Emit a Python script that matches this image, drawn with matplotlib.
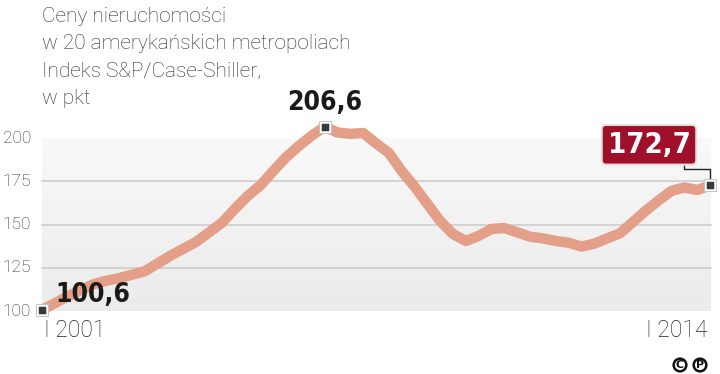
import numpy as np
import matplotlib
matplotlib.use("Agg")
from matplotlib import pyplot as plt
from matplotlib.patches import FancyBboxPatch

# kwartalne odczyty indeksu, I 2001 - I 2014
years = [2001 + q / 4 for q in range(53)]
index_vals = [100.6, 104.5, 108.5, 112.0, 115.5, 117.5, 119.0, 121.0, 123.0, 127.5,
              132.0, 136.0, 140.0, 145.5, 151.0, 159.0, 166.5, 172.7, 181.0, 189.0,
              195.5, 201.5, 206.6, 203.3, 202.5, 203.0, 197.0, 191.5, 181.0, 172.0,
              162.0, 152.0, 144.5, 140.5, 143.5, 147.5, 148.0, 145.5, 143.0, 142.0,
              140.5, 139.5, 137.3, 139.0, 142.0, 145.0, 151.5, 158.0, 164.0, 169.5,
              171.5, 170.0, 172.7]
y_ticks = [100, 125, 150, 175, 200]
x_labels = ["I 2001", "I 2014"]
title_lines = ["Ceny nieruchomości", "w 20 amerykańskich metropoliach",
               "Indeks S&P/Case-Shiller,", "w pkt"]

W, H = 720, 374
fig = plt.figure(figsize=(7.2, 3.74), dpi=100)
ax = fig.add_axes([0, 0, 1, 1])
ppy = 668 / 13          # pikseli na rok
ppu = 43.2 / 25         # pikseli na punkt indeksu
ax.set_xlim(2001 - 42 / ppy, 2001 - 42 / ppy + W / ppy)
ax.set_ylim(100 - (H - 311) / ppu, 100 + 311 / ppu)
ax.axis("off")

light = "Roboto"
cond_bold = dict(family="DejaVu Sans", fontstretch="condensed", fontweight="bold")

# szare tlo z gradientem
grad = np.linspace(0, 1, 100).reshape(-1, 1)
img = ax.imshow(grad, cmap=matplotlib.colors.LinearSegmentedColormap.from_list(
    "g", ["#ebebeb", "#f9f9f9"]), origin="lower", aspect="auto",
    extent=[2001, 2014.02, 100, 200], zorder=0)
box = FancyBboxPatch((2001, 100), 13.02, 100, boxstyle="round,pad=0,rounding_size=0.25",
                     mutation_aspect=100 / 13.02 * ppu / ppy * 1.0,
                     facecolor="none", edgecolor="none", transform=ax.transData)
ax.add_patch(box)
img.set_clip_path(box)

for t in y_ticks[1:-1]:
    ax.plot([2001, 2014.02], [t, t], color="#cdcdcd", lw=1.2, zorder=1)
for t in y_ticks:
    ax.text(2001 - 11 / ppy, t, str(t), ha="right", va="center", fontsize=12.5,
            color="#2a2a2a", family=light, fontweight="light")

ax.plot(years, index_vals, color="#e39f88", lw=7.5, solid_capstyle="round",
        solid_joinstyle="round", zorder=3)

# znaczniki
peak = int(np.argmax(index_vals))
for i in [0, peak, len(years) - 1]:
    ax.plot(years[i], index_vals[i], marker="s", ms=7, mfc="#3a3a3a", mec="white",
            mew=1.8, zorder=5)
    ax.plot(years[i], index_vals[i], marker="s", ms=9, mfc="none", mec="#bbbbbb",
            mew=0.6, zorder=5)

ax.text(years[0] + 13 / ppy, index_vals[0] + 1, "100,6", ha="left", va="bottom",
        fontsize=19, color="#1a1a1a", **cond_bold, zorder=6)
ax.text(years[peak], index_vals[peak] + 6, "206,6", ha="center", va="bottom",
        fontsize=19, color="#1a1a1a", **cond_bold, zorder=6)

# etykieta ostatniej wartosci
ex, ey = years[-1], index_vals[-1]
ax.plot([ex, ex, ex - 26 / ppy, ex - 26 / ppy],
        [ey, ey + 9.5, ey + 9.5, ey + 13], color="#222222", lw=1.0, zorder=4)
ax.text(ex - 61 / ppy, ey + 23.5, "172,7", ha="center", va="center", fontsize=21,
        color="white", **cond_bold, zorder=6,
        bbox=dict(boxstyle="round,pad=0.2,rounding_size=0.15", fc="#a0102a",
                  ec="#e8e0e0", lw=1.5))

ax.text(2001 + 2 / ppy, 88.5, x_labels[0], ha="left", va="center", fontsize=16.5,
        color="#222222", family=light, fontweight="light")
ax.text(2014 - 2 / ppy, 88.5, x_labels[1], ha="right", va="center", fontsize=16.5,
        color="#222222", family=light, fontweight="light")

for k, line in enumerate(title_lines):
    fig.text(42 / W, 1 - (16 + 27.5 * k) / H, line, ha="left", va="center",
             fontsize=15, color="#2a2a2a", family=light, fontweight="light")

# logo
for lx, ch in [(680, "C"), (700, "P")]:
    fig.text(lx / W, 1 - 365 / H, ch, ha="center", va="center", fontsize=8,
             fontweight="bold", color="#111111",
             bbox=dict(boxstyle="circle,pad=0.12", fc="white", ec="#111111", lw=1.8))

plt.savefig("out.png", dpi=100)
